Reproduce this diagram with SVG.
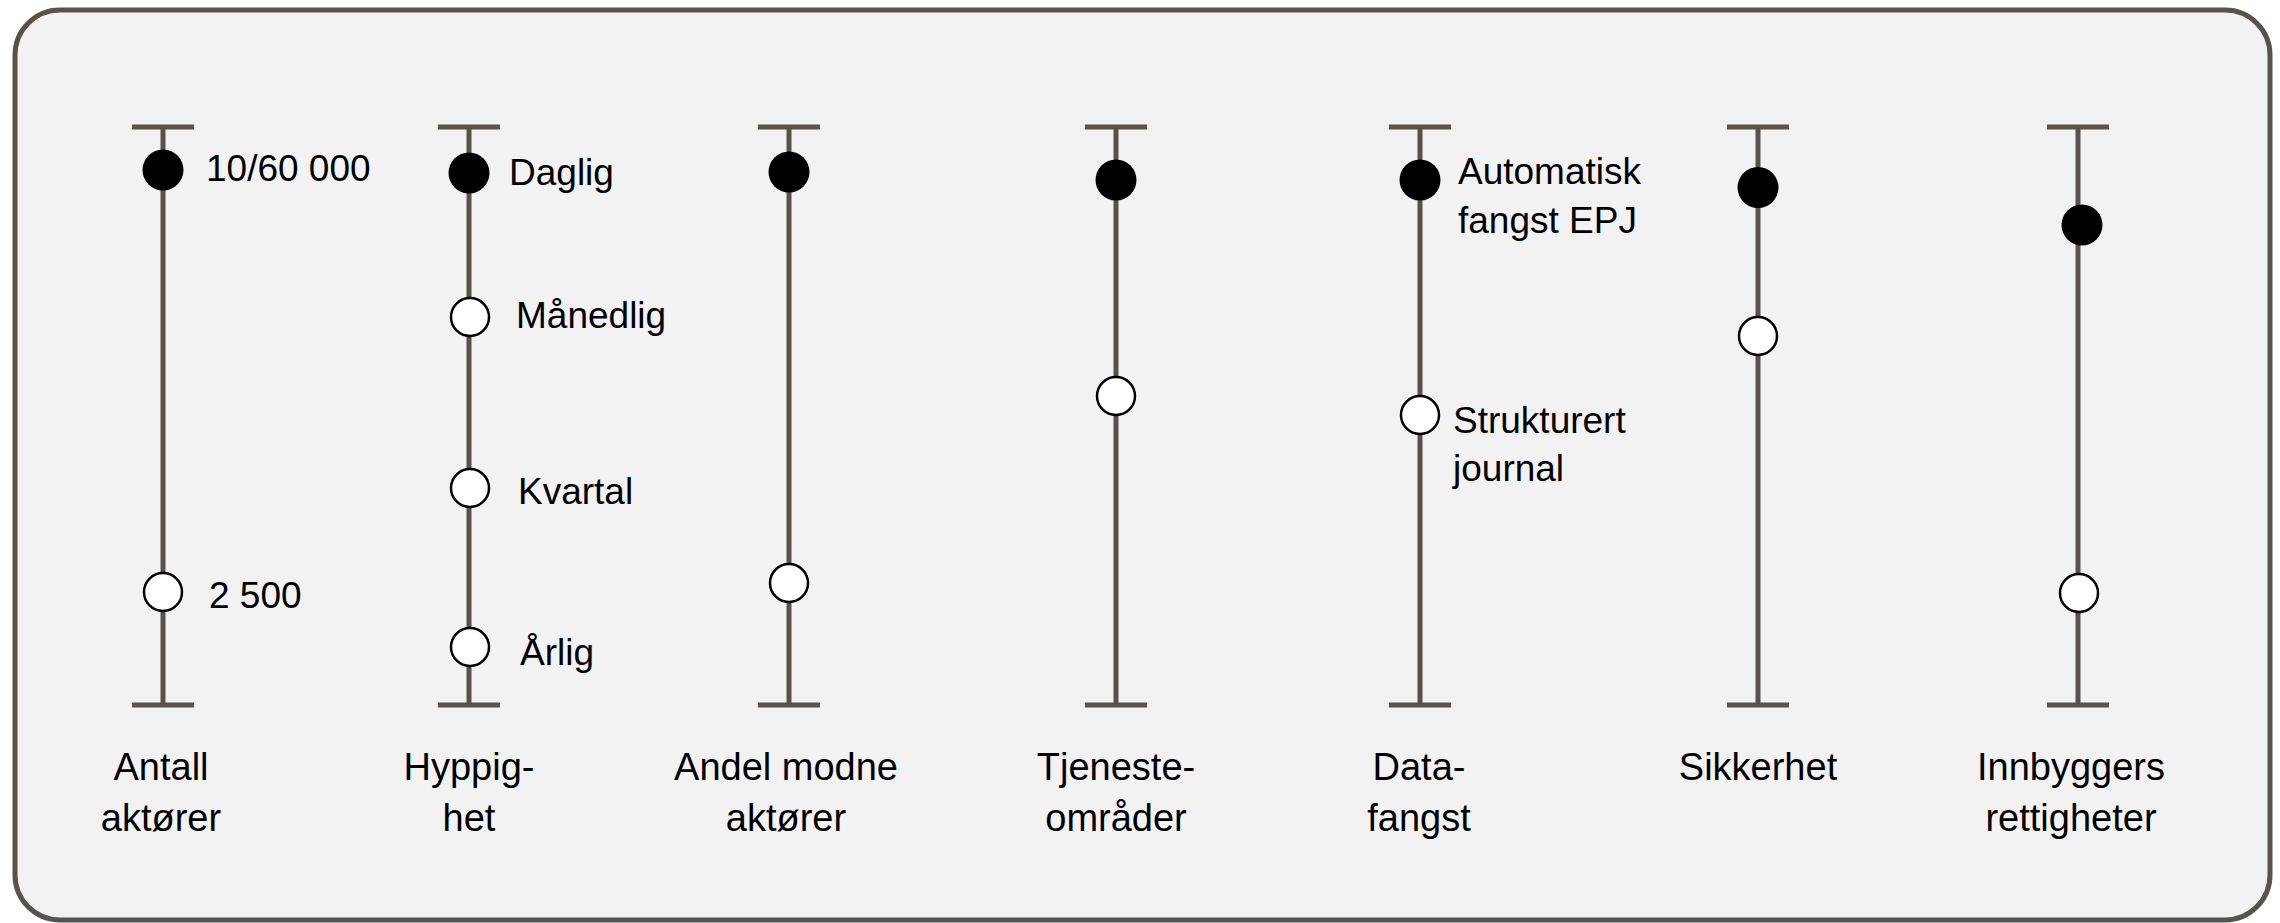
<svg xmlns="http://www.w3.org/2000/svg" width="2280" height="923" viewBox="0 0 2280 923">
  <style>
    .frame { fill: #F2F2F2; stroke: #57524C; stroke-width: 5; }
    .axis { stroke: #57524C; stroke-width: 5; fill: none; }
    .on { fill: #000000; }
    .off { fill: #FFFFFF; stroke: #000000; stroke-width: 2.5; }
    text { font-family: "Liberation Sans", Arial, sans-serif; fill: #000000; }
    .pt { font-size: 37px; }
    .lbl { font-size: 38px; text-anchor: middle; }
  </style>
  <defs>
    <!-- one vertical scale: stem plus top and bottom caps -->
    <path id="scale" class="axis" d="M0,127 V705 M-31,127 H31 M-31,705 H31"/>
  </defs>

  <rect class="frame" x="15" y="10" width="2255" height="910" rx="45" ry="45"/>

  <g id="antall-aktorer">
    <use href="#scale" x="163"/>
    <circle class="on" cx="163" cy="170" r="20.5"/>
    <circle class="off" cx="163" cy="592" r="19"/>
    <text class="pt" x="206" y="181">10/60 000</text>
    <text class="pt" x="209" y="608">2 500</text>
    <text class="lbl" x="161" y="780">Antall</text>
    <text class="lbl" x="161" y="831">aktører</text>
  </g>

  <g id="hyppighet">
    <use href="#scale" x="469"/>
    <circle class="on" cx="469" cy="173" r="20.5"/>
    <circle class="off" cx="470" cy="317" r="19"/>
    <circle class="off" cx="470" cy="488" r="19"/>
    <circle class="off" cx="470" cy="647" r="19"/>
    <text class="pt" x="509" y="185">Daglig</text>
    <text class="pt" x="516" y="328">Månedlig</text>
    <text class="pt" x="518" y="504">Kvartal</text>
    <text class="pt" x="520" y="665">Årlig</text>
    <text class="lbl" x="469" y="780">Hyppig-</text>
    <text class="lbl" x="469" y="831">het</text>
  </g>

  <g id="andel-modne-aktorer">
    <use href="#scale" x="789"/>
    <circle class="on" cx="789" cy="172" r="20.5"/>
    <circle class="off" cx="789" cy="583" r="19"/>
    <text class="lbl" x="786" y="780">Andel modne</text>
    <text class="lbl" x="786" y="831">aktører</text>
  </g>

  <g id="tjenesteomrader">
    <use href="#scale" x="1116"/>
    <circle class="on" cx="1116" cy="180" r="20.5"/>
    <circle class="off" cx="1116" cy="396" r="19"/>
    <text class="lbl" x="1116" y="780">Tjeneste-</text>
    <text class="lbl" x="1116" y="831">områder</text>
  </g>

  <g id="datafangst">
    <use href="#scale" x="1420"/>
    <circle class="on" cx="1420" cy="180" r="20.5"/>
    <circle class="off" cx="1420" cy="415" r="19"/>
    <text class="pt" x="1458" y="184">Automatisk</text>
    <text class="pt" x="1458" y="233">fangst EPJ</text>
    <text class="pt" x="1453" y="433">Strukturert</text>
    <text class="pt" x="1453" y="481">journal</text>
    <text class="lbl" x="1419" y="780">Data-</text>
    <text class="lbl" x="1419" y="831">fangst</text>
  </g>

  <g id="sikkerhet">
    <use href="#scale" x="1758"/>
    <circle class="on" cx="1758" cy="187.5" r="20.5"/>
    <circle class="off" cx="1758" cy="336" r="19"/>
    <text class="lbl" x="1758" y="780">Sikkerhet</text>
  </g>

  <g id="innbyggers-rettigheter">
    <use href="#scale" x="2078"/>
    <circle class="on" cx="2082" cy="225" r="20.5"/>
    <circle class="off" cx="2079" cy="593" r="19"/>
    <text class="lbl" x="2071" y="780">Innbyggers</text>
    <text class="lbl" x="2071" y="831">rettigheter</text>
  </g>
</svg>
